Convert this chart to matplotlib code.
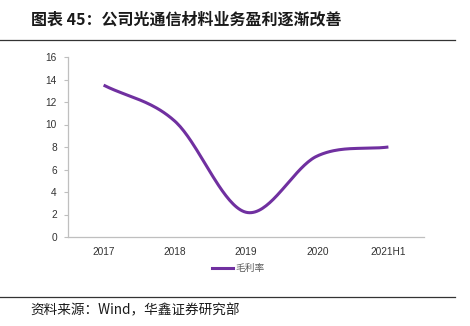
import numpy as np
import matplotlib
matplotlib.use("Agg")
import matplotlib.pyplot as plt
from matplotlib.lines import Line2D

plt.rcParams['font.family'] = ['Noto Sans CJK SC', 'DejaVu Sans']

categories = ["2017", "2018", "2019", "2020", "2021H1"]
gross_margin = [13.5, 10.3, 2.2, 7.2, 8.0]
yticks = [0, 2, 4, 6, 8, 10, 12, 14, 16]
title = "图表 45：公司光通信材料业务盈利逐渐改善"
source = "资料来源：Wind，华鑫证券研究部"
series_name = "毛利率"
color = "#7030A0"

def catmull_rom(x, y, n=40, tension=0.5):
    x = np.asarray(x, float); y = np.asarray(y, float)
    px = np.concatenate([[2*x[0]-x[1]], x, [2*x[-1]-x[-2]]])
    py = np.concatenate([[2*y[0]-y[1]], y, [2*y[-1]-y[-2]]])
    xs, ys = [], []
    for i in range(1, len(px)-2):
        t = np.linspace(0, 1, n)
        p0x, p1x, p2x, p3x = px[i-1], px[i], px[i+1], px[i+2]
        p0y, p1y, p2y, p3y = py[i-1], py[i], py[i+1], py[i+2]
        m1x, m2x = tension*(p2x-p0x), tension*(p3x-p1x)
        m1y, m2y = tension*(p2y-p0y), tension*(p3y-p1y)
        h00 = 2*t**3-3*t**2+1; h10 = t**3-2*t**2+t
        h01 = -2*t**3+3*t**2; h11 = t**3-t**2
        xs.append(h00*p1x+h10*m1x+h01*p2x+h11*m2x)
        ys.append(h00*p1y+h10*m1y+h01*p2y+h11*m2y)
    return np.concatenate(xs), np.concatenate(ys)

fig = plt.figure(figsize=(4.7, 3.26), dpi=100)
ax = fig.add_axes([68/470, 1-237/326, (424-68)/470, (237-57)/326])

xi = np.arange(len(categories))
sx, sy = catmull_rom(xi, gross_margin)
ax.plot(sx, sy, color=color, lw=2.2, solid_capstyle='butt')

ax.set_xlim(-0.5, len(categories)-0.5)
ax.set_ylim(0, 16)
ax.set_yticks(yticks)
ax.set_yticklabels([str(v) for v in yticks])
ax.set_xticks(xi)
ax.set_xticklabels(categories)
for s in ['top', 'right']:
    ax.spines[s].set_visible(False)
for s in ['left', 'bottom']:
    ax.spines[s].set_color('#BFBFBF')
    ax.spines[s].set_linewidth(0.9)
ax.tick_params(axis='y', length=3, color='#BFBFBF', labelsize=7.3, pad=5, labelcolor='#333333')
ax.tick_params(axis='x', length=0, labelsize=7.3, pad=7, labelcolor='#333333')
for lab in ax.get_xticklabels() + ax.get_yticklabels():
    lab.set_family(['Liberation Sans', 'DejaVu Sans'])

handle = Line2D([], [], color=color, lw=2.2)
fig.legend([handle], [series_name], loc='center', bbox_to_anchor=(238/470, 1-268/326),
           frameon=False, fontsize=7, handlelength=2.2, handletextpad=0.2,
           labelcolor='#595959')

fig.text(31/470, 1-20/326, title, fontsize=11.5, fontweight='bold', va='center', ha='left', color='#1a1a1a')
fig.add_artist(Line2D([0, 455/470], [1-40/326, 1-40/326], color='#333333', lw=0.9))
fig.add_artist(Line2D([0, 455/470], [1-297/326, 1-297/326], color='#333333', lw=0.9))
fig.text(30/470, 1-310/326, source, fontsize=9.8, va='center', ha='left', color='#1a1a1a')

fig.savefig("out.png", dpi=100)
